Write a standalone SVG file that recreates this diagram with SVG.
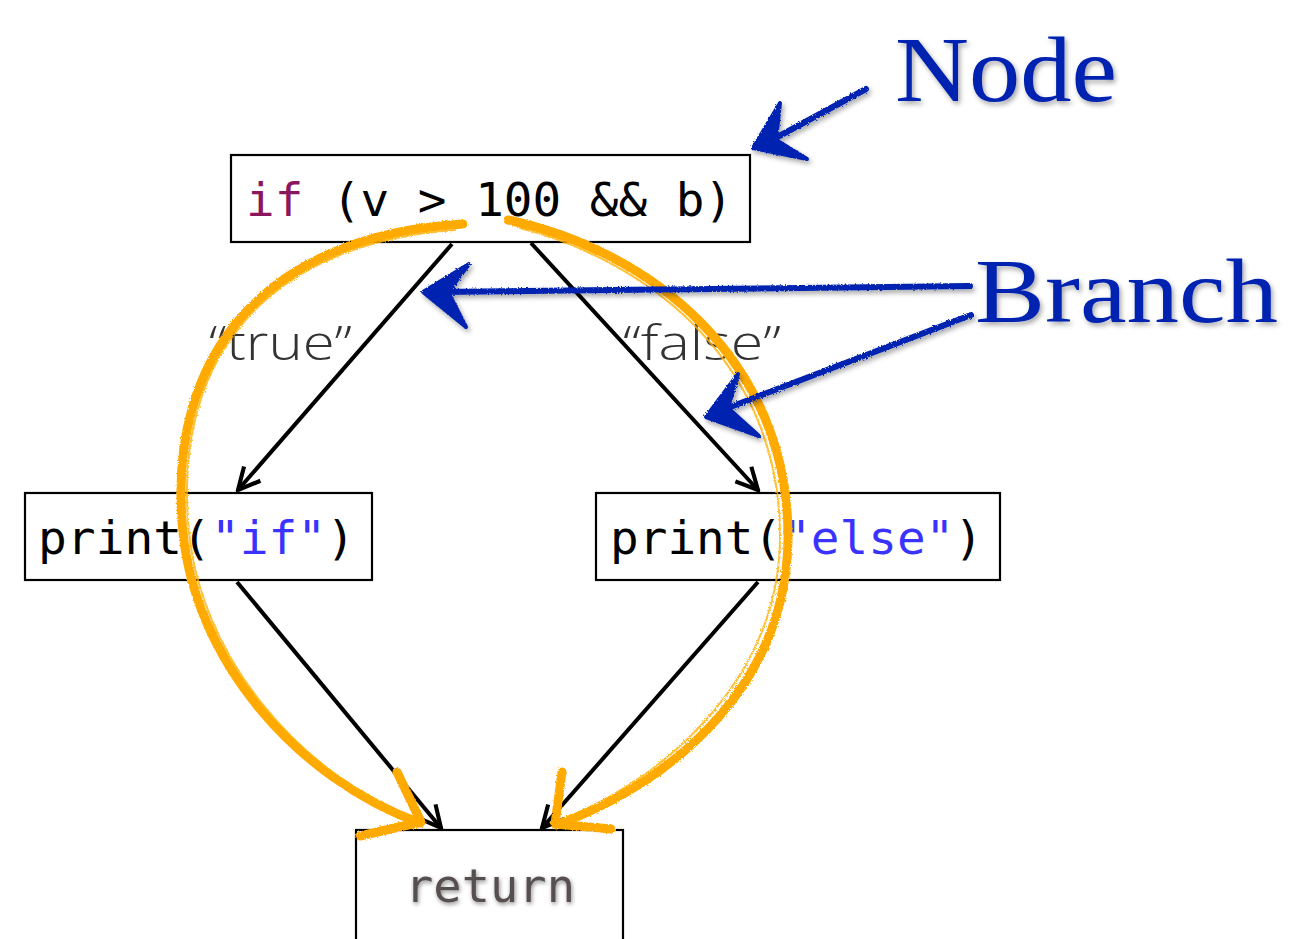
<svg xmlns="http://www.w3.org/2000/svg" width="1303" height="939" viewBox="0 0 1303 939">
<style>
.box{fill:#fff;stroke:#000;stroke-width:2.2}
.code{font-family:"DejaVu Sans Mono","Liberation Mono",monospace;font-size:47px;fill:#000}
.kw{fill:#8b1660}
.str{fill:#3a33ff}
.lbl{font-family:"Open Sans","Noto Sans",sans-serif;font-weight:300;font-size:48px;fill:#333}
.edge{fill:none;stroke:#000;stroke-width:4}
.orange{fill:none;stroke:#ffaa00;stroke-width:9;stroke-linecap:round;stroke-linejoin:round}
.orange2{fill:none;stroke:#ffb000;stroke-width:2;stroke-linecap:round;opacity:.8}
.blue{fill:none;stroke:#0424b0;stroke-linecap:round;stroke-linejoin:round}
.bluehead{fill:#0424b0;stroke:#0424b0;stroke-width:4;stroke-linejoin:round}
.hand{font-family:"Liberation Serif","DejaVu Serif",serif;fill:#0424b0}
</style>
<defs>
<marker id="ah" viewBox="0 0 24 24" refX="22" refY="12" markerWidth="26" markerHeight="26" orient="auto" markerUnits="userSpaceOnUse">
<path d="M2,2 L22,12 L2,22" fill="none" stroke="#000" stroke-width="3.8" stroke-linejoin="miter"/>
</marker>
<filter id="rough" x="-5%" y="-5%" width="110%" height="110%">
<feTurbulence type="fractalNoise" baseFrequency="0.6" numOctaves="2" result="n"/>
<feDisplacementMap in="SourceGraphic" in2="n" scale="3"/>
</filter>
<filter id="shadow" x="-10%" y="-20%" width="120%" height="140%">
<feDropShadow dx="2" dy="3" stdDeviation="2.5" flood-color="#000" flood-opacity="0.35"/>
</filter>
<filter id="tshadow" x="-10%" y="-30%" width="120%" height="160%">
<feDropShadow dx="1" dy="2" stdDeviation="2" flood-color="#000" flood-opacity="0.45"/>
</filter>
</defs>
<rect width="1303" height="939" fill="#fff"/>

<g id="connectors">
<line class="edge" x1="452" y1="244" x2="238" y2="490" marker-end="url(#ah)"/>
<line class="edge" x1="531" y1="243" x2="758" y2="490" marker-end="url(#ah)"/>
<line class="edge" x1="237" y1="582" x2="441" y2="828" marker-end="url(#ah)"/>
<line class="edge" x1="758" y1="582" x2="542" y2="828" marker-end="url(#ah)"/>
<text class="lbl" x="209" y="360" textLength="143" lengthAdjust="spacingAndGlyphs">“true”</text>
<text class="lbl" x="623" y="360" textLength="158" lengthAdjust="spacingAndGlyphs">“false”</text>
</g>

<g id="node-if">
<rect class="box" x="231" y="155" width="519" height="87"/>
<text class="code" x="246" y="216" textLength="487" lengthAdjust="spacingAndGlyphs"><tspan class="kw">if</tspan> (v &gt; 100 &amp;&amp; b)</text>
</g>
<g id="node-print-if">
<rect class="box" x="25" y="493" width="347" height="87"/>
<text class="code" x="38" y="554" textLength="317" lengthAdjust="spacingAndGlyphs">print(<tspan class="str">"if"</tspan>)</text>
</g>
<g id="node-print-else">
<rect class="box" x="596" y="493" width="404" height="87"/>
<text class="code" x="610" y="554" textLength="373" lengthAdjust="spacingAndGlyphs">print(<tspan class="str">"else"</tspan>)</text>
</g>
<g id="node-return">
<rect class="box" x="356" y="830" width="267" height="130"/>
<text class="code" x="405" y="902" textLength="170" lengthAdjust="spacingAndGlyphs" style="fill:#574f4f" filter="url(#tshadow)">return</text>
</g>

<g id="orange-arcs" filter="url(#rough)">
<path class="orange" d="M463 224 C260 236 170 360 182 520 C190 660 300 780 420 823"/>
<path class="orange2" d="M455 230 C262 244 176 362 188 520 C196 655 300 772 412 818"/>
<path class="orange" d="M397 772 L421 822 L360 836"/>
<path class="orange" d="M508 220 C650 250 790 360 788 540 C786 680 680 780 556 825"/>
<path class="orange2" d="M520 228 C652 262 782 366 780 540 C778 672 676 772 566 818"/>
<path class="orange" d="M562 772 L555 824 L611 829"/>
</g>

<g id="annotations" filter="url(#shadow)">
<g filter="url(#rough)">
<path class="blue" stroke-width="6" d="M866 89 L770 141"/>
<path class="bluehead" d="M780 103 L753 148 L807 159 L776 140 Z"/>
<path class="blue" stroke-width="6" d="M970 286 L440 292"/>
<path class="bluehead" d="M469 264 L423 292 L466 327 L448 292 Z"/>
<path class="blue" stroke-width="6" d="M971 315 L725 409"/>
<path class="bluehead" d="M738 374 L706 417 L759 436 L728 408 Z"/>
</g>
<text class="hand" x="895" y="101" font-size="94" textLength="222" lengthAdjust="spacingAndGlyphs">Node</text>
<text class="hand" x="975" y="322" font-size="92" textLength="303" lengthAdjust="spacingAndGlyphs">Branch</text>
</g>
</svg>
